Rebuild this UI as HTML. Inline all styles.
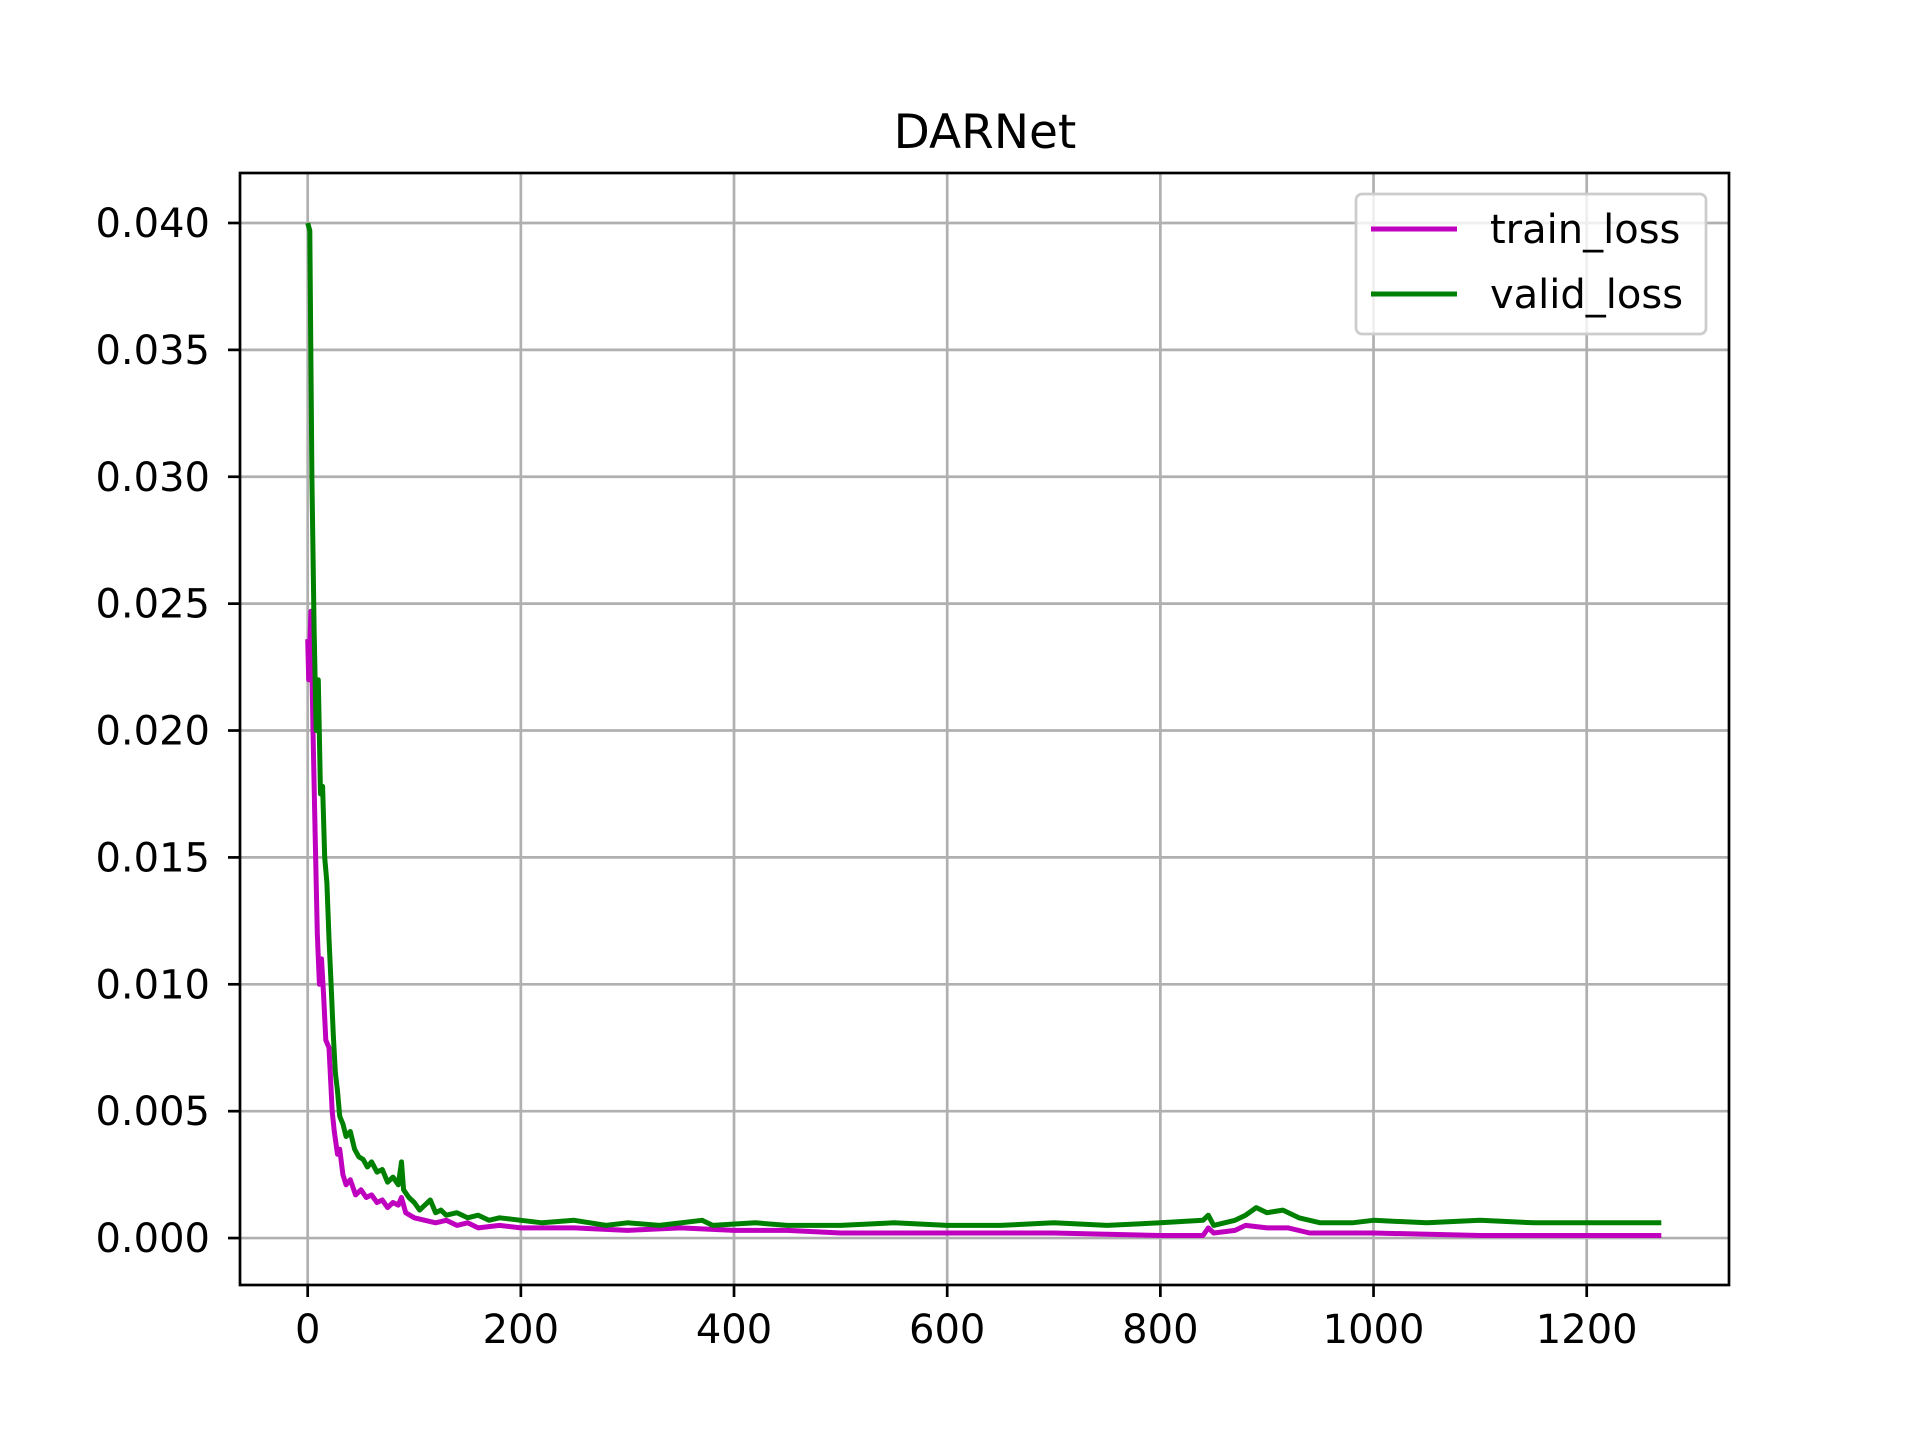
<!DOCTYPE html>
<html><head><meta charset="utf-8"><style>
html,body{margin:0;padding:0;background:#fff;}
svg{display:block;font-family:"DejaVu Sans","Liberation Sans",sans-serif;}
</style></head><body>
<svg id="chart" width="1920" height="1440" viewBox="0 0 1920 1440" xmlns="http://www.w3.org/2000/svg">
<rect width="1920" height="1440" fill="#fff"/>
<text x="985" y="148" font-size="47" text-anchor="middle">DARNet</text>
<g id="grid"></g><g id="series"></g><g id="axes"></g><g id="legend"></g>
</svg>
<script>
const xTicks=[0,200,400,600,800,1000,1200];
const yTicks=[0,0.005,0.010,0.015,0.020,0.025,0.030,0.035,0.040];
const yTickLabels=["0.000","0.005","0.010","0.015","0.020","0.025","0.030","0.035","0.040"];
const trainX=[0,1,3,5,7,9,11,13,15,17,20,23,25,28,30,33,36,40,45,50,55,60,65,70,75,80,85,88,92,100,110,120,130,140,150,160,180,200,250,300,350,400,450,500,600,700,800,840,845,850,870,880,900,920,940,1000,1100,1270];
const trainY=[0.0236,0.022,0.0247,0.020,0.016,0.012,0.0100,0.0110,0.0095,0.0078,0.0075,0.0050,0.0042,0.0033,0.0035,0.0025,0.0021,0.0023,0.0017,0.0019,0.0016,0.0017,0.0014,0.0015,0.0012,0.0014,0.0013,0.0016,0.0010,0.0008,0.0007,0.0006,0.0007,0.0005,0.0006,0.0004,0.0005,0.0004,0.0004,0.0003,0.0004,0.0003,0.0003,0.0002,0.0002,0.0002,0.0001,0.0001,0.0004,0.0002,0.0003,0.0005,0.0004,0.0004,0.0002,0.0002,0.0001,0.0001];
const validX=[0,2,4,6,8,10,12,14,16,18,20,22,24,26,28,30,33,36,40,44,48,52,56,60,65,70,75,80,85,88,90,95,100,105,110,115,120,125,130,140,150,160,170,180,200,220,250,280,300,330,370,380,420,450,500,550,600,650,700,750,800,840,845,850,870,880,890,900,915,930,950,980,1000,1050,1100,1150,1200,1270];
const validY=[0.040,0.0397,0.030,0.024,0.020,0.022,0.0175,0.0178,0.0150,0.0140,0.0118,0.010,0.0080,0.0065,0.0058,0.0048,0.0045,0.0040,0.0042,0.0035,0.0032,0.0031,0.0028,0.0030,0.0026,0.0027,0.0022,0.0024,0.0021,0.0030,0.0019,0.0016,0.0014,0.0011,0.0013,0.0015,0.0010,0.0011,0.0009,0.0010,0.0008,0.0009,0.0007,0.0008,0.0007,0.0006,0.0007,0.0005,0.0006,0.0005,0.0007,0.0005,0.0006,0.0005,0.0005,0.0006,0.0005,0.0005,0.0006,0.0005,0.0006,0.0007,0.0009,0.0005,0.0007,0.0009,0.0012,0.0010,0.0011,0.0008,0.0006,0.0006,0.0007,0.0006,0.0007,0.0006,0.0006,0.0006];

const L=240,R=1729,T=173,B=1285;
const X0=-63.5,X1=1333.5,Y0=-0.00185,Y1=0.04197;
const sx=v=>L+(v-X0)/(X1-X0)*(R-L);
const sy=v=>B-(v-Y0)/(Y1-Y0)*(B-T);
const NS="http://www.w3.org/2000/svg";
function mk(tag,parent,attrs){const e=document.createElementNS(NS,tag);for(const k in attrs)e.setAttribute(k,attrs[k]);parent.appendChild(e);return e;}
const grid=document.getElementById('grid'),axes=document.getElementById('axes'),series=document.getElementById('series'),legend=document.getElementById('legend');

xTicks.forEach(t=>{
  const g=mk('line',grid,{x1:sx(t),x2:sx(t),y1:T,y2:B,stroke:'#b0b0b0','stroke-width':2.7});
  
  
  const tk=mk('line',axes,{x1:sx(t),x2:sx(t),y1:B,y2:B+12,stroke:'#000','stroke-width':2.7});
  
  
  const lb=mk('text',axes,{x:sx(t),y:B+58,'font-size':40,'text-anchor':'middle'});
  lb.textContent=t;
  
  
});
yTicks.forEach((t,i)=>{
  const g=mk('line',grid,{x1:L,x2:R,y1:sy(t),y2:sy(t),stroke:'#b0b0b0','stroke-width':2.7});
  
  
  const tk=mk('line',axes,{x1:L-12,x2:L,y1:sy(t),y2:sy(t),stroke:'#000','stroke-width':2.7});
  
  
  const lb=mk('text',axes,{x:L-30,y:sy(t)+14,'font-size':40,'text-anchor':'end'});
  lb.textContent=yTickLabels[i];
  
  
});
const frame=mk('rect',axes,{x:L,y:T,width:R-L,height:B-T,fill:'none',stroke:'#000','stroke-width':2.7});



function path(xs,ys,color,name){
  const d=xs.map((x,i)=>(i?'L':'M')+sx(x).toFixed(1)+','+sy(ys[i]).toFixed(1)).join('');
  const p=mk('path',series,{d:d,fill:'none',stroke:color,'stroke-width':5,'stroke-linejoin':'round'});
  
  
}
path(trainX,trainY,'#bf00bf','train-loss-line');
path(validX,validY,'#008000','valid-loss-line');

const box=mk('rect',legend,{x:1356,y:194,width:350,height:140,rx:6,fill:'#fff','fill-opacity':0.8,stroke:'#ccc','stroke-width':2.7});


[['train_loss','#bf00bf',229],['valid_loss','#008000',294]].forEach(([n,c,y])=>{
  const l=mk('line',legend,{x1:1371,x2:1457,y1:y,y2:y,stroke:c,'stroke-width':5});
  
  
  const t=mk('text',legend,{x:1490,y:y+14,'font-size':40});
  t.textContent=n;
  
  
});
</script>
</body></html>
